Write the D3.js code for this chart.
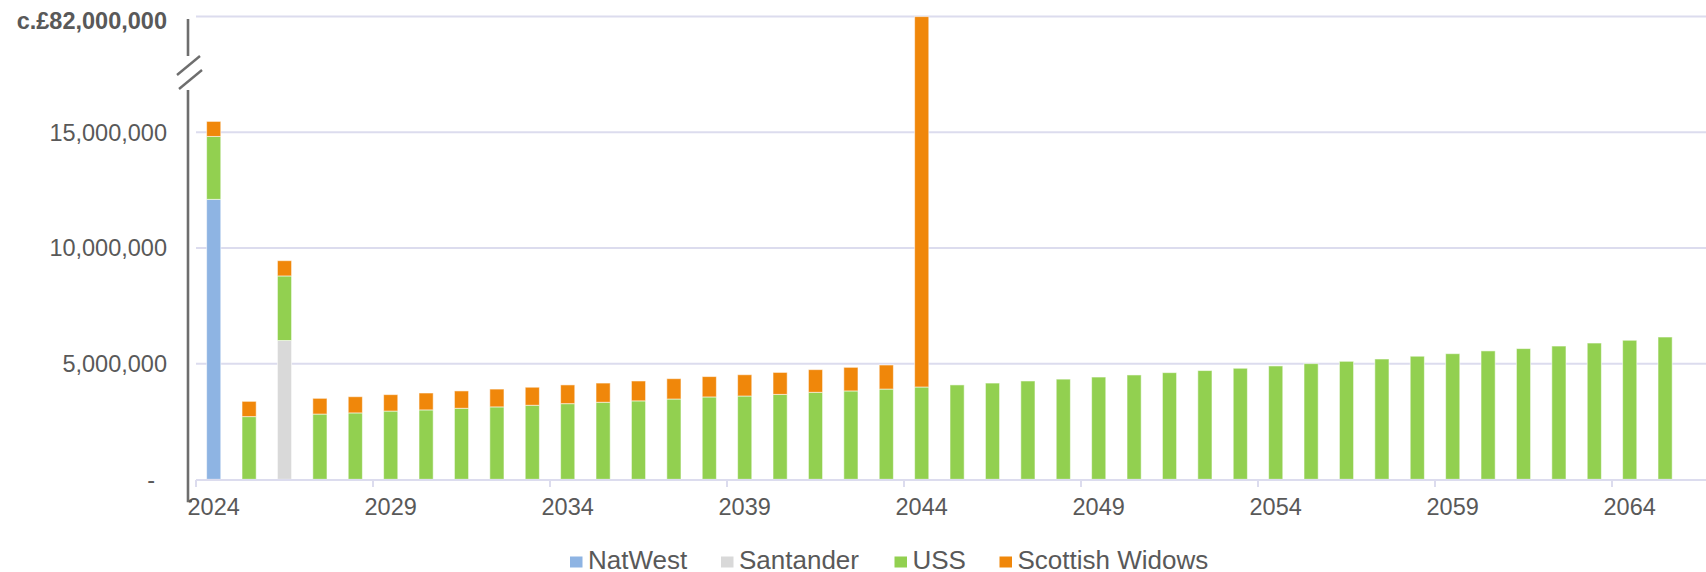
<!DOCTYPE html>
<html>
    <head>
        <style>
            body { margin: 0; background: #fff; }
            svg text { font-family: "Liberation Sans", Arial, sans-serif; fill: #595959; }
        </style>
    </head>
    <body>
        <svg id="chart"></svg>
        <script src="https://d3js.org/d3.v7.min.js"></script>
        <script>
            // data (values in £)
            const years = d3.range(2024, 2066);
            const natwest = [12100000].concat(d3.range(41).map(() => 0));
            const santander = [0, 0, 6000000].concat(d3.range(39).map(() => 0));
            const uss = [2.72, 2.71, 2.79, 2.82, 2.87, 2.95, 3.00, 3.07, 3.13, 3.20,
                         3.27, 3.33, 3.39, 3.47, 3.56, 3.60, 3.67, 3.76, 3.82, 3.90,
                         3.99, 4.08, 4.16, 4.25, 4.33, 4.42, 4.51, 4.61, 4.70, 4.80,
                         4.90, 5.00, 5.10, 5.20, 5.32, 5.43, 5.55, 5.65, 5.76, 5.89,
                         6.01, 6.15].map(v => v * 1e6);
            const scottishWidows = [0.65, 0.66, 0.66, 0.68, 0.70, 0.71, 0.73, 0.75, 0.77, 0.78,
                                    0.81, 0.83, 0.86, 0.88, 0.88, 0.92, 0.95, 0.98, 1.02, 1.04,
                                    78.0].map(v => v * 1e6).concat(d3.range(21).map(() => 0));
            const seriesNames = ["NatWest", "Santander", "USS", "Scottish Widows"];
            const seriesColors = ["#8EB4E3", "#D9D9D9", "#92D050", "#F0870A"];
            const yTicks = [0, 5000000, 10000000, 15000000];
            const topTick = 20000000;
            const topLabel = "c.£82,000,000";

            const width = 1706, height = 572;
            const svg = d3.select("#chart").attr("width", width).attr("height", height);

            const rows = years.map((y, i) => ({
                year: y,
                "NatWest": natwest[i],
                "Santander": santander[i],
                "USS": uss[i],
                "Scottish Widows": scottishWidows[i]
            }));

            const x = d3.scaleBand().domain(years).range([196, 196 + 42 * 35.4]).paddingInner(0.6).paddingOuter(0.3);
            const y = d3.scaleLinear().domain([0, topTick]).range([479.3, 16.6]).clamp(true);

            // gridlines
            svg.append("g").selectAll("line")
                .data(yTicks.slice(1).concat([topTick]))
                .enter().append("line")
                .attr("x1", 196).attr("x2", width)
                .attr("y1", d => y(d)).attr("y2", d => y(d))
                .style("stroke", "#dcdcee")
                .style("stroke-width", 2);

            // y labels
            svg.append("g").selectAll("text")
                .data(yTicks)
                .enter().append("text")
                .attr("x", d => d === 0 ? 155 : 167)
                .attr("y", d => y(d) + 8.5)
                .attr("text-anchor", "end")
                .style("font-size", "23.5px")
                .text(d => d === 0 ? "-" : d3.format(",")(d));

            svg.append("text")
                .attr("x", 167).attr("y", 28.5)
                .attr("text-anchor", "end")
                .style("font-size", "23.5px")
                .style("font-weight", "bold")
                .text(topLabel);

            // broken y axis line
            const axisColor = "#6e6e6e";
            svg.append("line").attr("x1", 188).attr("x2", 188).attr("y1", 19).attr("y2", 56)
                .style("stroke", axisColor).style("stroke-width", 2.6);
            svg.append("line").attr("x1", 177).attr("y1", 75).attr("x2", 200).attr("y2", 56)
                .style("stroke", axisColor).style("stroke-width", 2.4);
            svg.append("line").attr("x1", 179).attr("y1", 89).attr("x2", 202).attr("y2", 70)
                .style("stroke", axisColor).style("stroke-width", 2.4);
            svg.append("path").attr("d", "M188,90 L188,501 L192,501")
                .style("fill", "none").style("stroke", axisColor).style("stroke-width", 2.6);

            // bars
            const stack = d3.stack().keys(seriesNames);
            const layers = stack(rows);
            svg.append("g").selectAll("g")
                .data(layers)
                .enter().append("g")
                .style("fill", (d, i) => seriesColors[i])
                .selectAll("rect")
                .data(d => d.filter(p => p[1] > p[0]))
                .enter().append("rect")
                .attr("x", d => x(d.data.year))
                .attr("width", x.bandwidth())
                .attr("y", d => y(d[1]))
                .attr("height", d => y(d[0]) - y(d[1]))
                .style("stroke", "#fff")
                .style("stroke-opacity", 0.55)
                .style("stroke-width", 1);

            // x axis
            svg.append("line").attr("x1", 196).attr("x2", width).attr("y1", 480).attr("y2", 480)
                .style("stroke", "#dcdcee").style("stroke-width", 2);
            const labelled = years.filter(d => (d - 2024) % 5 === 0);
            const step = x.step();
            svg.append("g").selectAll("line")
                .data(labelled)
                .enter().append("line")
                .attr("x1", d => 196 + (d - 2024) * step).attr("x2", d => 196 + (d - 2024) * step)
                .attr("y1", 480).attr("y2", 487)
                .style("stroke", "#dcdcee").style("stroke-width", 2);
            svg.append("g").selectAll("text")
                .data(labelled)
                .enter().append("text")
                .attr("x", d => x(d) + x.bandwidth() / 2)
                .attr("y", 515)
                .attr("text-anchor", "middle")
                .style("font-size", "23.5px")
                .text(d => d);

            // legend
            const legendX = [570, 721, 894.5, 999.5];
            const legend = svg.append("g").selectAll("g")
                .data(seriesNames)
                .enter().append("g")
                .attr("transform", (d, i) => `translate(${legendX[i]},0)`);
            legend.append("rect")
                .attr("x", 0).attr("y", 556.5).attr("width", 12.5).attr("height", 11)
                .style("fill", (d, i) => seriesColors[i]);
            legend.append("text")
                .attr("x", 18).attr("y", 569.3)
                .style("font-size", "26px")
                .text(d => d);
        </script>
    </body>
</html>
